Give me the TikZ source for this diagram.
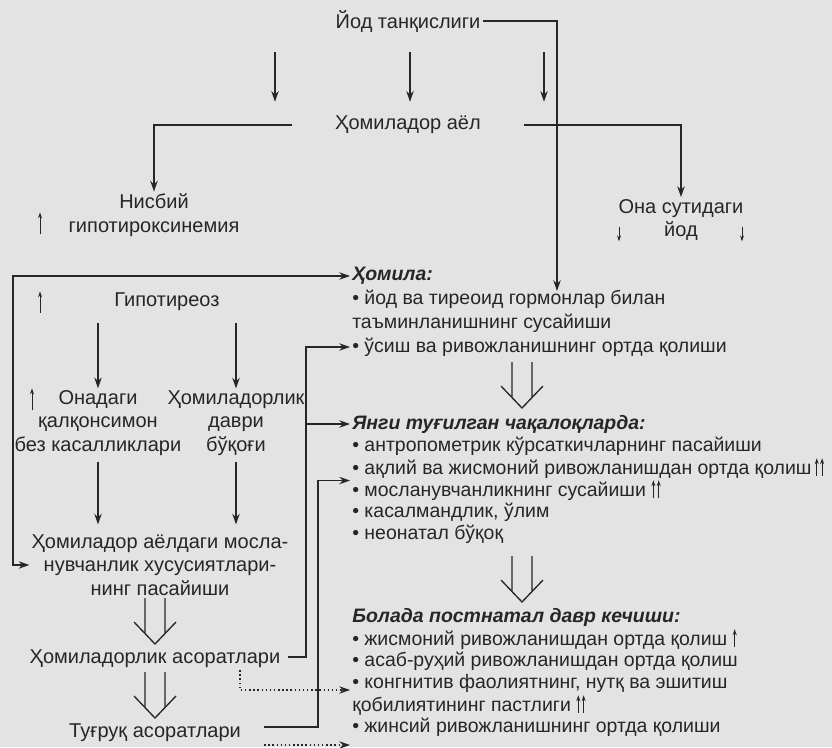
\documentclass[tikz,border=0pt]{standalone}
\usepackage{fontspec}
\setmainfont{Liberation Sans}
\usetikzlibrary{arrows.meta,calc}

\definecolor{ink}{RGB}{38,38,38}
\definecolor{paper}{RGB}{227,227,227}

% thin up / down marks used in the text
\newcommand{\uparr}[1][12pt]{\tikz[baseline=0pt, reset cm]\draw[ink, line width=0.7pt, -{Stealth[length=4.5pt,width=3pt]}] (0,-1pt) -- (0,#1);}
\newcommand{\downarr}[1][10pt]{\tikz[baseline=0pt, reset cm]\draw[ink, line width=0.7pt, -{Stealth[length=4.5pt,width=3pt]}] (0,#1) -- (0,-1pt);}

\tikzset{
  txt/.style={inner sep=1.5pt, text=ink, font=\fontsize{15}{17.5}\selectfont},
  ctr/.style={txt, align=center},
  lft/.style={txt, anchor=west, font=\fontsize{14.6}{17}\selectfont},
  head/.style={lft, font=\fontsize{14.6}{17}\selectfont\bfseries\itshape},
  sign/.style={inner sep=0pt},
  conn/.style={draw=ink, line width=1.3pt, ->},
  dotconn/.style={conn, line width=1.1pt, dotted},
  thinln/.style={draw=ink, line width=1pt},
  hollow/.pic={\draw[thinln] (-10,0) -- (-10,-35.5) (10,0) -- (10,-35.5) (-21,-24) -- (0,-46) -- (21,-24);},
  >={Stealth[length=8pt,width=5.5pt]}
}

\begin{document}
\begin{tikzpicture}[x=0.75pt,y=0.75pt,yscale=-1,xscale=1]
\fill[paper] (0,0) rectangle (832,747);
\useasboundingbox (0,0) rectangle (832,747);

% Text Node
\node[ctr] (yod) at (408,21) {Йод танқислиги};
% Text Node
\node[ctr, inner xsep=32pt] (preg) at (408,125) {Ҳомиладор аёл};
% Text Node
\node[ctr] (relhypo) at (154,215) {Нисбий\\гипотироксинемия};
% Text Node
\node[ctr] (milk) at (681,220) {Она сутидаги\\йод};
% Text Node
\node[ctr] (hypothyr) at (167,302) {Гипотиреоз};
% Text Node
\node[ctr] (thyroid) at (98,423) {Онадаги\\қалқонсимон\\без касалликлари};
% Text Node
\node[ctr] (goiter) at (236,423) {Ҳомиладорлик\\даври\\бўқоғи};
% Text Node
\node[ctr] (adapt) at (160,565) {Ҳомиладор аёлдаги мосла-\\нувчанлик хусусиятлари-\\нинг пасайиши};
% Text Node
\node[ctr] (compl1) at (155,659) {Ҳомиладорлик асоратлари};
% Text Node
\node[ctr] (compl2) at (155,733) {Туғруқ асоратлари};

% Text Node
\node[head] (fetusT) at (350,276) {Ҳомила:};
\node[lft] (f1) at (350,299) {• йод ва тиреоид гормонлар билан};
\node[lft] (f2) at (350,323) {таъминланишнинг сусайиши};
\node[lft] (f3) at (350,347) {• ўсиш ва ривожланишнинг ортда қолиши};
% Text Node
\node[head] (nbT) at (350,424) {Янги туғилган чақалоқларда:};
\node[lft] (nb1) at (350,446) {• антропометрик кўрсаткичларнинг пасайиши};
\node[lft] (nb2) at (350,468) {• ақлий ва жисмоний ривожланишдан ортда қолиш\,\uparr\kern1pt\uparr};
\node[lft] (nb3) at (350,490) {• мосланувчанликнинг сусайиши \uparr\kern1pt\uparr};
\node[lft] (nb4) at (350,512) {• касалмандлик, ўлим};
\node[lft] (nb5) at (350,534) {• неонатал бўқоқ};
% Text Node
\node[head] (pcT) at (350,617) {Болада постнатал давр кечиши:};
\node[lft] (pc1) at (350,639) {• жисмоний ривожланишдан ортда қолиш \uparr};
\node[lft] (pc2) at (350,661) {• асаб-руҳий ривожланишдан ортда қолиш};
\node[lft] (pc3) at (350,683) {• конгнитив фаолиятнинг, нутқ ва эшитиш};
\node[lft] (pc4) at (350,705) {қобилиятининг пастлиги \uparr\kern1pt\uparr};
\node[lft] (pc5) at (350,727) {• жинсий ривожланишнинг ортда қолиши};

% Arrow signs
\node[sign] (up1) at (40,223) {\uparr[15pt]};
\node[sign] (up2) at (40,302) {\uparr[15pt]};
\node[sign] (up3) at (32,399) {\uparr[15pt]};
\node[sign] (down1) at (619,234) {\downarr};
\node[sign] (down2) at (742,234) {\downarr};

\coordinate (yodend) at (557,291);
\coordinate (loop) at (13,0);
\coordinate (bus1) at (306,0);
\coordinate (bus2) at (318,0);

%Straight Lines
\foreach \dx in {-133,2,136}
  \draw[conn, shorten <=13.5pt, shorten >=9pt] ($(yod.south)+(\dx,0)$) -- ($(preg.north)+(\dx,0)$);
\draw[conn] (yod.east) -| (yodend);
\draw[conn] (preg.west) -| (relhypo.north);
\draw[conn] (preg.east) -| (milk.north);

%Straight Lines
\draw[conn, <->] (fetusT.west) -| (loop |- adapt.west) -- (adapt.west);
\draw[conn, shorten <=7pt] (thyroid.north |- hypothyr.south) -- (thyroid.north);
\draw[conn, shorten <=7pt] (goiter.north |- hypothyr.south) -- (goiter.north);
\draw[conn, shorten <=3pt, shorten >=6pt] (thyroid.south) -- (thyroid.south |- adapt.north);
\draw[conn, shorten <=3pt, shorten >=6pt] (goiter.south) -- (goiter.south |- adapt.north);

%Straight Lines
\draw[conn] ($(compl1.east)+(5,-2)$) -| (bus1 |- f3.west) -- (f3.west);
\draw[conn] (bus1 |- nbT.west) -- (nbT.west);
\draw[conn] ($(compl2.east)+(21,-6)$) -| (bus2 |- nb2.south west) -- (nb2.south west);
\draw[dotconn] ($(compl1.south)+(85,0)$) |- ($(pc3.west)+(0,7)$);
\draw[dotconn] ($(compl2.east)+(21,12)$) coordinate (d2) -- (d2 -| pc5.west);

% Hollow arrows
\pic at (155,598) {hollow};
\pic at (155,672) {hollow};
\pic at (522,362) {hollow};
\pic at (522,556) {hollow};

\end{tikzpicture}
\end{document}
